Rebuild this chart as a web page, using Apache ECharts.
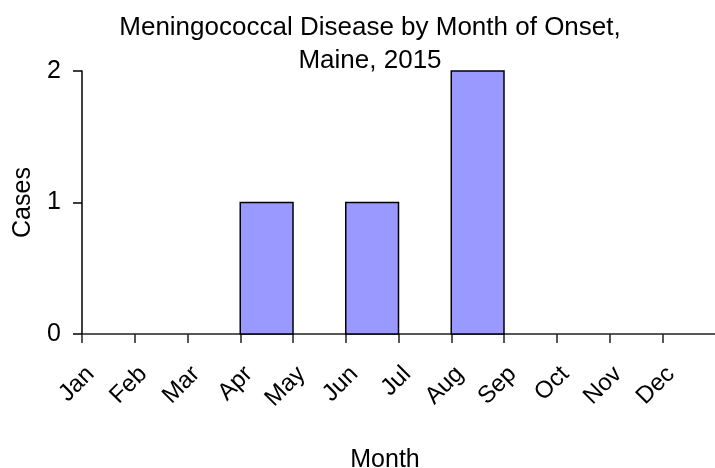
<!DOCTYPE html>
<html>
<head>
<meta charset="utf-8">
<script src="https://cdn.jsdelivr.net/npm/echarts@6/dist/echarts.min.js"></script>
<style>
  html, body { margin: 0; padding: 0; background: #fff; }
  #chart { width: 715px; height: 468px; }
</style>
</head>
<body>
<div id="chart"></div>
<script>
// Monthly case counts of meningococcal disease, Maine 2015
const months = ['Jan', 'Feb', 'Mar', 'Apr', 'May', 'Jun', 'Jul', 'Aug', 'Sep', 'Oct', 'Nov', 'Dec'];
const cases = [0, 0, 0, 1, 0, 1, 0, 2, 0, 0, 0, 0];
const caseTicks = [0, 1, 2];

const font = '"Liberation Sans", Arial, Helvetica, sans-serif';

const chart = echarts.init(document.getElementById('chart'), null, { renderer: 'canvas' });

// each month is a bin [i, i+1] on a numeric axis; labels sit at the bin starts
const binData = cases.map((v, i) => [i, v]);

chart.setOption({
  animation: false,
  backgroundColor: '#ffffff',
  title: [
    {
      text: 'Meningococcal Disease by Month of Onset,\nMaine, 2015',
      left: 365,
      top: 6,
      textAlign: 'center',
      textStyle: { fontFamily: font, fontSize: 26, fontWeight: 'normal', color: '#000', lineHeight: 33 }
    },
    {
      text: 'Month',
      left: 380,
      top: 443,
      textAlign: 'center',
      textStyle: { fontFamily: font, fontSize: 25, fontWeight: 'normal', color: '#000', lineHeight: 25 }
    }
  ],
  grid: { left: 82, right: -5, top: 71, bottom: 134, containLabel: false },
  xAxis: {
    type: 'value',
    min: 0,
    max: months.length,
    interval: 1,
    splitLine: { show: false },
    axisLine: { show: true, lineStyle: { color: '#222', width: 1.5 } },
    axisTick: { show: true, length: 9, lineStyle: { color: '#222', width: 1.5 } },
    axisLabel: {
      rotate: 45,
      margin: 28,
      verticalAlign: 'top',
      color: '#000',
      fontFamily: font,
      fontSize: 24,
      showMaxLabel: false,
      formatter: v => months[v] || ''
    }
  },
  yAxis: {
    type: 'value',
    min: caseTicks[0],
    max: caseTicks[caseTicks.length - 1],
    interval: 1,
    name: 'Cases',
    nameLocation: 'middle',
    nameGap: 46,
    nameTextStyle: { fontFamily: font, fontSize: 25, color: '#000' },
    splitLine: { show: false },
    axisLine: { show: true, lineStyle: { color: '#000', width: 1.5 } },
    axisTick: { show: true, length: 9, lineStyle: { color: '#000', width: 1.5 } },
    axisLabel: { margin: 21, color: '#000', fontFamily: font, fontSize: 25 }
  },
  series: [{
    type: 'custom',
    data: binData,
    encode: { x: 0, y: 1 },
    renderItem: function (params, api) {
      const i = api.value(0);
      const v = api.value(1);
      if (!v) return null;
      const topLeft = api.coord([i, v]);
      const bottomRight = api.coord([i + 1, 0]);
      return {
        type: 'rect',
        shape: {
          x: topLeft[0],
          y: topLeft[1],
          width: bottomRight[0] - topLeft[0],
          height: bottomRight[1] - topLeft[1]
        },
        style: { fill: '#9999ff', stroke: '#000', lineWidth: 1.5 }
      };
    }
  }]
});
</script>
</body>
</html>
